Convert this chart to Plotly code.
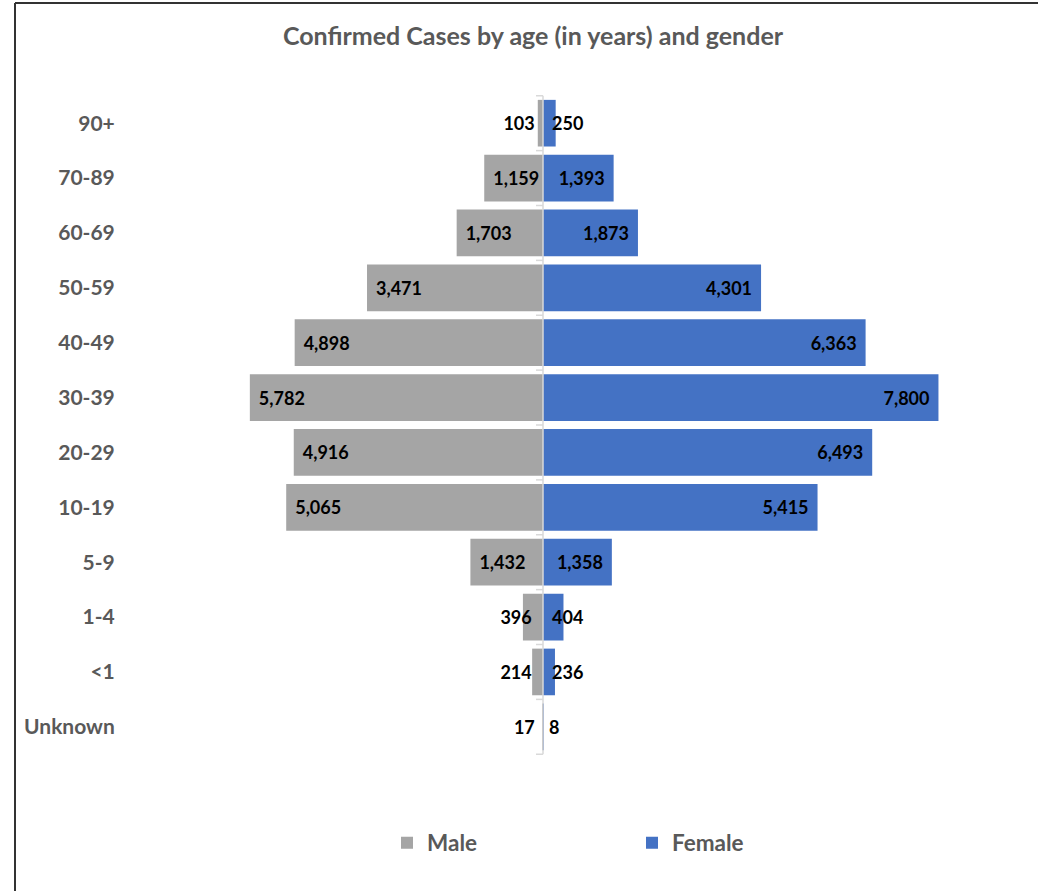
import plotly.graph_objects as go

# Age bands from oldest (top) to unknown (bottom)
age_groups = ["90+", "70-89", "60-69", "50-59", "40-49", "30-39",
              "20-29", "10-19", "5-9", "1-4", "<1", "Unknown"]
male_cases = [103, 1159, 1703, 3471, 4898, 5782, 4916, 5065, 1432, 396, 214, 17]
female_cases = [250, 1393, 1873, 4301, 6363, 7800, 6493, 5415, 1358, 404, 236, 8]

MALE_COLOR = "#A5A5A5"
FEMALE_COLOR = "#4472C4"
GREY_TEXT = "#595959"
FONT = "Lato"

# Page and plot-area geometry (pixels)
W, H = 1038, 891
L, R, T, B = 125, 950, 95, 755
PX_PER_CASE = 50.7 / 1000.0
x_range = [-(543 - L) / PX_PER_CASE, (R - 543) / PX_PER_CASE]


def paper_x(p):
    return (p - L) / (R - L)


def paper_y(p):
    return (B - p) / (B - T)


PAD = "\u2004"  # small gap between label and bar edge
LABEL_MIN = 1000  # shorter bars get their label next to the axis


def label(v, side, pad=PAD):
    s = f"{v:,}"
    return pad + s if side == "left" else s + pad


label_font = dict(family=FONT, size=18, color="black", weight="bold")

fig = go.Figure()

# Main bars: labels at the outer end of the bar
fig.add_trace(go.Bar(
    y=age_groups, x=[-v for v in male_cases], orientation="h", name="Male",
    marker=dict(color=MALE_COLOR, line=dict(width=0)),
    text=[label(v, "left") if v >= LABEL_MIN else "" for v in male_cases],
    textposition="inside", insidetextanchor="end", textangle=0,
    constraintext="none", textfont=label_font, insidetextfont=label_font,
    hoverinfo="skip",
))
fig.add_trace(go.Bar(
    y=age_groups, x=female_cases, orientation="h", name="Female",
    marker=dict(color=FEMALE_COLOR, line=dict(width=0)),
    text=[label(v, "right") if v >= LABEL_MIN else "" for v in female_cases],
    textposition="inside", insidetextanchor="end", textangle=0,
    constraintext="none", textfont=label_font, insidetextfont=label_font,
    hoverinfo="skip",
))

# Labels for short bars, anchored at the axis
fig.add_trace(go.Bar(
    y=age_groups, x=[-v for v in male_cases], orientation="h",
    marker=dict(color="rgba(0,0,0,0)", line=dict(width=0)), showlegend=False,
    text=[label(v, "right", PAD + "\u2009") if v < LABEL_MIN else ""
          for v in male_cases],
    textposition="inside", insidetextanchor="start", textangle=0,
    constraintext="none", textfont=label_font, insidetextfont=label_font,
    hoverinfo="skip",
))
fig.add_trace(go.Bar(
    y=age_groups, x=female_cases, orientation="h",
    marker=dict(color="rgba(0,0,0,0)", line=dict(width=0)), showlegend=False,
    text=[label(v, "left") if v < LABEL_MIN else "" for v in female_cases],
    textposition="inside", insidetextanchor="start", textangle=0,
    constraintext="none", textfont=label_font, insidetextfont=label_font,
    hoverinfo="skip",
))

shapes = []
# Central category axis with tick marks between bands
shapes.append(dict(type="line", xref="x", yref="y", x0=0, x1=0,
                   y0=-0.5, y1=len(age_groups) - 0.5,
                   line=dict(color="#D9D9D9", width=1.5), layer="above"))
for k in range(len(age_groups) + 1):
    shapes.append(dict(type="line", xref="x", yref="y", xsizemode="pixel",
                       xanchor=0, x0=-7, x1=0, y0=k - 0.5, y1=k - 0.5,
                       line=dict(color="#D9D9D9", width=1.5), layer="above"))
# Chart frame (top and left edges)
frame = dict(color="#333333", width=2)
shapes.append(dict(type="line", xref="paper", yref="paper",
                   x0=paper_x(15), x1=paper_x(W), y0=paper_y(3), y1=paper_y(3),
                   line=frame))
shapes.append(dict(type="line", xref="paper", yref="paper",
                   x0=paper_x(15), x1=paper_x(15), y0=paper_y(3), y1=paper_y(H),
                   line=frame))

fig.update_layout(
    width=W, height=H,
    margin=dict(l=L, r=W - R, t=T, b=H - B),
    paper_bgcolor="white", plot_bgcolor="white",
    barmode="overlay", bargap=0.15,
    title=dict(text="Confirmed Cases by age (in years) and gender",
               x=533 / W, xref="container", xanchor="center",
               y=1 - 36 / H, yref="container", yanchor="middle",
               font=dict(family=FONT, size=25, color=GREY_TEXT, weight="bold")),
    xaxis=dict(range=x_range, visible=False, fixedrange=True),
    yaxis=dict(type="category", categoryorder="array", categoryarray=age_groups,
               autorange="reversed", showgrid=False, zeroline=False, showline=False,
               ticks="outside", ticklen=5, tickcolor="rgba(0,0,0,0)",
               tickfont=dict(family=FONT, size=21, color=GREY_TEXT, weight="bold"),
               fixedrange=True),
    legend=dict(orientation="h", x=paper_x(387), xanchor="left",
                y=paper_y(843), yanchor="middle", itemwidth=30,
                entrywidth=200, entrywidthmode="pixels",
                font=dict(family=FONT, size=22.5, color=GREY_TEXT, weight="bold"),
                bgcolor="rgba(0,0,0,0)"),
    shapes=shapes,
    showlegend=True,
)

fig.write_html("out.html")
